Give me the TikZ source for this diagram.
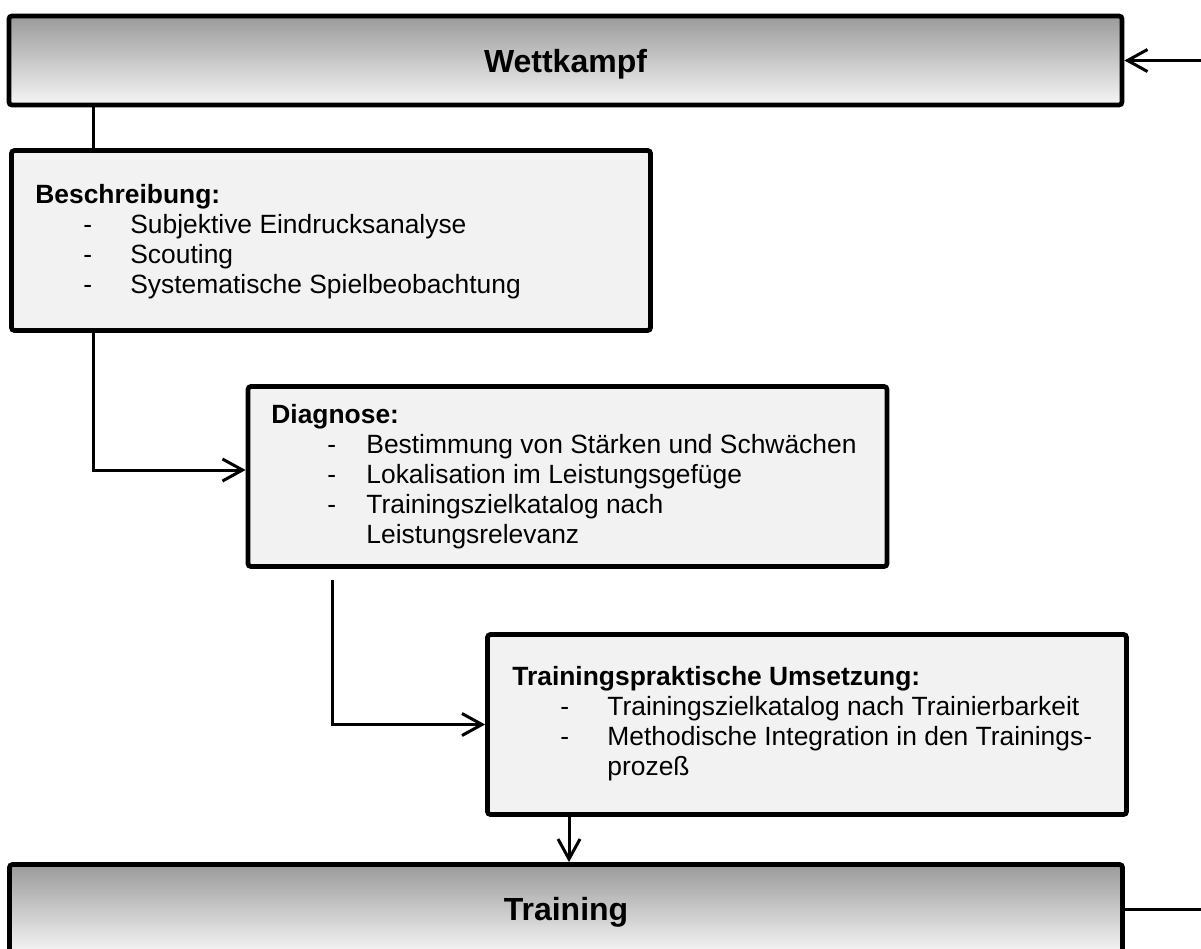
\documentclass[tikz,border=0pt]{standalone}
\usepackage{fontspec}
\setmainfont{Liberation Sans}
\usetikzlibrary{arrows.meta}
\definecolor{boxgray}{HTML}{F2F2F2}
\definecolor{bartop}{HTML}{9A9A9A}
\definecolor{barbot}{HTML}{F6F6F6}

\begin{document}
\begin{tikzpicture}[x=0.5pt, y=-0.5pt,
  bar/.style={draw, line width=2.4pt, rounded corners=1.5pt, top color=bartop, bottom color=barbot,
    minimum width=556.5pt, minimum height=44.5pt, text depth=0pt, font=\fontsize{16}{19}\selectfont\bfseries},
  box/.style={draw, line width=2.4pt, rounded corners=1.5pt, fill=boxgray, minimum width=319.5pt, minimum height=90pt},
  txt/.style={anchor=base west, inner sep=0pt, font=\fontsize{13.2}{15}\selectfont},
  con/.style={line width=1.5pt},
  pfeil/.style={con, -{Straight Barb[length=10pt, width=11pt]}}]

\clip (0,0) rectangle (1201,949);

\node (wk) at (565.5,60.5) [bar] {Wettkampf};
\node (tr) at (566,909) [bar] {Training};

\node (bs) at (331,240.5) [box] {};
\node (dg) at (567.5,476.5) [box] {};
\node (tu) at (807,724.5) [box] {};

\node (bstxt) at (35,203) [txt] {\begin{tabular}[t]{@{}p{24pt}@{}p{23.5pt}@{}l@{}}
  \multicolumn{3}{@{}l@{}}{\textbf{Beschreibung:}}\\
  & - & Subjektive Eindrucksanalyse\\
  & - & Scouting\\
  & - & Systematische Spielbeobachtung
\end{tabular}};

\node (dgtxt) at (271,423) [txt] {\begin{tabular}[t]{@{}p{28pt}@{}p{19.5pt}@{}l@{}}
  \multicolumn{3}{@{}l@{}}{\textbf{Diagnose:}}\\
  & - & Bestimmung von Stärken und Schwächen\\
  & - & Lokalisation im Leistungsgefüge\\
  & - & Trainingszielkatalog nach\\
  &   & Leistungsrelevanz
\end{tabular}};

\node (tutxt) at (512,685) [txt] {\begin{tabular}[t]{@{}p{24pt}@{}p{23.5pt}@{}l@{}}
  \multicolumn{3}{@{}l@{}}{\textbf{Trainingspraktische Umsetzung:}}\\
  & - & Trainingszielkatalog nach Trainierbarkeit\\
  & - & Methodische Integration in den Trainings-\\
  &   & prozeß
\end{tabular}};

\coordinate (k1) at (93.5,470);
\coordinate (k2) at (332,580);
\coordinate (k3) at (569,0);
\coordinate (rin) at (1201,60.5);
\coordinate (rout) at (1201,909);

\draw[pfeil] (rin) -- (wk.east);
\draw[con] (wk.south -| k1) -- (bs.north -| k1);
\draw[pfeil] (bs.south -| k1) -- (k1) -- (dg.west |- k1);
\draw[pfeil] (k2) |- (tu.west);
\draw[pfeil] (tu.south -| k3) -- (tr.north -| k3);
\draw[con] (tr.east) -- (rout);

\end{tikzpicture}
\end{document}
